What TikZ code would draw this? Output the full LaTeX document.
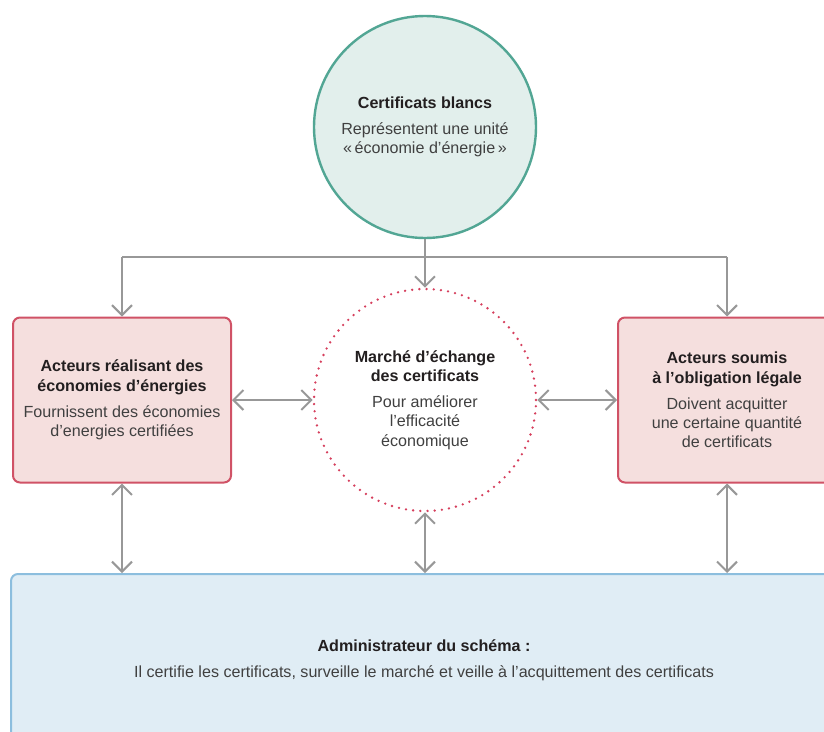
\documentclass[tikz,border=0pt]{standalone}
\usepackage{fontspec}
\setmainfont{Liberation Sans}
\usetikzlibrary{arrows.meta}
\definecolor{tealfill}{RGB}{226,239,236}
\definecolor{tealline}{RGB}{82,166,148}
\definecolor{redfill}{RGB}{245,223,222}
\definecolor{redline}{RGB}{208,82,102}
\definecolor{dotred}{RGB}{214,62,92}
\definecolor{bluefill}{RGB}{224,237,245}
\definecolor{blueline}{RGB}{140,190,222}
\definecolor{arrowgray}{RGB}{152,152,152}
\definecolor{titletext}{RGB}{35,31,32}
\definecolor{bodytext}{RGB}{64,64,64}
\newcommand\cbtitle[1]{\textcolor{titletext}{\bfseries #1}}
\begin{document}
\begin{tikzpicture}[x=1pt,y=-1pt,
  >={Straight Barb[length=10pt,width=20pt]},
  txt/.style={align=center, text=bodytext, font=\fontsize{16.1}{19.2}\selectfont},
  topcircle/.style={circle, draw=tealline, fill=tealfill, line width=2.4pt, minimum size=222pt, inner sep=0pt, txt},
  marketcircle/.style={circle, draw=dotred, line width=2.6pt, line cap=round, dash pattern=on 0pt off 7.2pt, minimum size=222pt, inner sep=0pt, txt},
  actorbox/.style={rectangle, rounded corners=7pt, draw=redline, fill=redfill, line width=2pt, minimum width=218pt, minimum height=165pt, inner sep=0pt, txt},
  adminbox/.style={rectangle, rounded corners=7pt, draw=blueline, fill=bluefill, line width=2pt, minimum width=840pt, minimum height=190pt, inner sep=0pt},
  conn/.style={draw=arrowgray, line width=2pt}
]
\useasboundingbox (0,0) rectangle (824,731);
\clip (0,0) rectangle (824,731);
\fill[white] (0,0) rectangle (824,731);

\node[topcircle] (cert) at (425,127) {\cbtitle{Certificats blancs}\\[7pt]Représentent une unité\\«\,économie d’énergie\,»};
\node[marketcircle] (market) at (425,400) {\cbtitle{Marché d’échange}\\\cbtitle{des certificats}\\[7pt]Pour améliorer\\l’efficacité\\économique};
\node[actorbox] (left) at (122,400) {\cbtitle{Acteurs réalisant des}\\\cbtitle{économies d’énergies}\\[7pt]Fournissent des économies\\d’energies certifiées};
\node[actorbox] (right) at (727,400) {\cbtitle{Acteurs soumis}\\\cbtitle{à l’obligation légale}\\[7pt]Doivent acquitter\\une certaine quantité\\de certificats};
\node[adminbox, anchor=north west] (admin) at (10,573) {};
\node[txt] (admintext) at (424,660) {\cbtitle{Administrateur du schéma :}\\[7pt]Il certifie les certificats, surveille le marché et veille à l’acquittement des certificats};

\coordinate (busL) at (122,257);
\coordinate (busR) at (727,257);
\draw[conn] (busL) -- (busR);
\draw[conn,->] (busL) -- (left.north);
\draw[conn,->] (busR) -- (right.north);
\draw[conn,->] (cert.south) -- (market.north);
\draw[conn,<->] (left.east) -- (market.west);
\draw[conn,<->] (market.east) -- (right.west);
\draw[conn,<->] (left.south) -- (left.south |- admin.north);
\draw[conn,<->] (market.south) -- (market.south |- admin.north);
\draw[conn,<->] (right.south) -- (right.south |- admin.north);
\end{tikzpicture}
\end{document}
